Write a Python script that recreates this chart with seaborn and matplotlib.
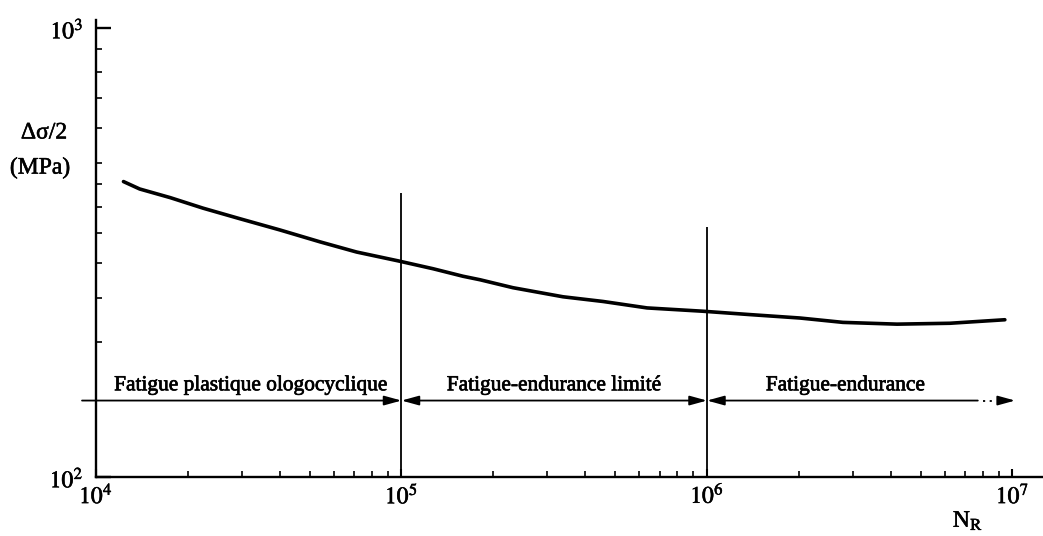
import numpy as np
import pandas as pd
import matplotlib
matplotlib.use("Agg")
import matplotlib.pyplot as plt
import matplotlib.patheffects as pe
import seaborn as sns

# ---- data ----
cycles = [12300, 13900, 17500, 22400, 29600, 40000, 54100, 71300, 97400,
          126800, 158900, 180700, 231700, 337800, 456900, 636600, 969700,
          1382000, 2015000, 2786000, 4188000, 6240000, 9440000]
stress = [455, 438, 419, 397, 376, 355, 334, 317, 303,
          291, 280, 275, 264, 252, 246, 238, 234,
          230, 226, 221, 219, 220, 224]
boundaries = [1e4, 1e5, 1e6, 1e7]
region_labels = ["Fatigue plastique ologocyclique",
                 "Fatigue-endurance limité",
                 "Fatigue-endurance"]
x_tick_values = [1e4, 1e5, 1e6, 1e7]
x_tick_labels = [r"$10^{4}$", r"$10^{5}$", r"$10^{6}$", r"$10^{7}$"]
y_tick_values = [100, 1000]
y_tick_labels = [r"$10^{2}$", r"$10^{3}$"]
y_minor_values = [200, 250, 300, 350, 400, 450, 500, 600, 700, 800, 900]

# ---- style ----
sns.set_theme(style="ticks")
plt.rcParams["font.family"] = ["Liberation Serif", "DejaVu Serif"]
plt.rcParams["mathtext.fontset"] = "stix"

W, H = 1043, 536
fig = plt.figure(figsize=(W / 100, H / 100), dpi=100)
fig.patch.set_facecolor("white")
ax = fig.add_axes([96 / W, (H - 477) / H, (1042 - 96) / W, (477 - 20) / H])
ax.set_facecolor("white")

df = pd.DataFrame({"N": cycles, "S": stress})
sns.lineplot(data=df, x="N", y="S", ax=ax, color="black", linewidth=2.6,
             solid_capstyle="round", sort=True)

ax.set_xscale("log")
ax.set_yscale("log")
ax.set_xlim(1e4, 10 ** 7.0966)
ax.set_ylim(100, 1042)

# boundaries (vertical lines)
ax.vlines(boundaries[1], 100, 429, color="black", linewidth=1.3)
ax.vlines(boundaries[2], 100, 360, color="black", linewidth=1.3)

# region arrows
y_arr = 148
ap = dict(color="black", linewidth=1.3, shrinkA=0, shrinkB=0,
          mutation_scale=13)
head = "head_length=0.8,head_width=0.22"
ax.annotate("", xy=(boundaries[1], y_arr), xytext=(9000, y_arr),
            arrowprops=dict(arrowstyle="-|>," + head, **ap),
            annotation_clip=False)
ax.annotate("", xy=(boundaries[2], y_arr), xytext=(boundaries[1], y_arr),
            arrowprops=dict(arrowstyle="<|-|>," + head, **ap),
            annotation_clip=False)
ax.annotate("", xy=(7.7e6, y_arr), xytext=(boundaries[2], y_arr),
            arrowprops=dict(arrowstyle="<|-," + head, **ap),
            annotation_clip=False)
ax.plot([8.0e6, 8.7e6], [y_arr, y_arr], color="black", linewidth=1.3,
        linestyle=(0, (1.2, 2.5)))
ax.annotate("", xy=(1.02e7, y_arr), xytext=(9.0e6, y_arr),
            arrowprops=dict(arrowstyle="-|>," + head, **ap),
            annotation_clip=False)

# region texts
text_x = [10 ** 4.508, 10 ** 5.5, 10 ** 6.453]
stroke = [pe.withStroke(linewidth=0.5, foreground="black")]
stroke_l = [pe.withStroke(linewidth=0.4, foreground="black")]
for tx, lab in zip(text_x, region_labels):
    ax.text(tx, 156, lab, ha="center", va="baseline", fontsize=15.4,
            color="black", path_effects=stroke)

# spines / ticks
for s in ["top", "right"]:
    ax.spines[s].set_visible(False)
for s in ["left", "bottom"]:
    ax.spines[s].set_linewidth(1.7)
    ax.spines[s].set_color("black")

ax.set_xticks(x_tick_values)
ax.set_xticklabels(x_tick_labels)
ax.set_yticks(y_tick_values)
ax.set_yticklabels(y_tick_labels)
ax.set_yticks(y_minor_values, minor=True)
ax.yaxis.set_minor_formatter(matplotlib.ticker.NullFormatter())
minor_x = [m * d for d in [1e4, 1e5, 1e6] for m in range(2, 10)]
ax.set_xticks(minor_x, minor=True)
ax.xaxis.set_minor_formatter(matplotlib.ticker.NullFormatter())

ax.tick_params(axis="x", which="major", direction="in", length=6, width=1.5,
               color="black", labelsize=17, pad=4)
ax.tick_params(axis="x", which="minor", direction="in", length=4, width=1.2,
               color="black")
ax.tick_params(axis="y", which="major", direction="in", length=11, width=1.7,
               color="black", labelsize=17, pad=9)
ax.tick_params(axis="y", which="minor", direction="in", length=4, width=1.2,
               color="black")
for lab in ax.get_xticklabels() + ax.get_yticklabels():
    lab.set_color("black")
    lab.set_path_effects(stroke_l)

ax.set_xlabel("")
ax.set_ylabel("")

fig.text(44 / W, 1 - 133 / H, "Δσ/2", ha="center", va="center", fontsize=17,
         color="black", path_effects=stroke_l)
fig.text(40 / W, 1 - 168 / H, "(MPa)", ha="center", va="center", fontsize=17,
         color="black", path_effects=stroke_l)
fig.text(968 / W, 1 - 521 / H, r"N$_{\mathrm{R}}$", ha="center", va="center",
         fontsize=17, color="black", path_effects=stroke_l)

fig.savefig("out.png", dpi=100, facecolor="white")
